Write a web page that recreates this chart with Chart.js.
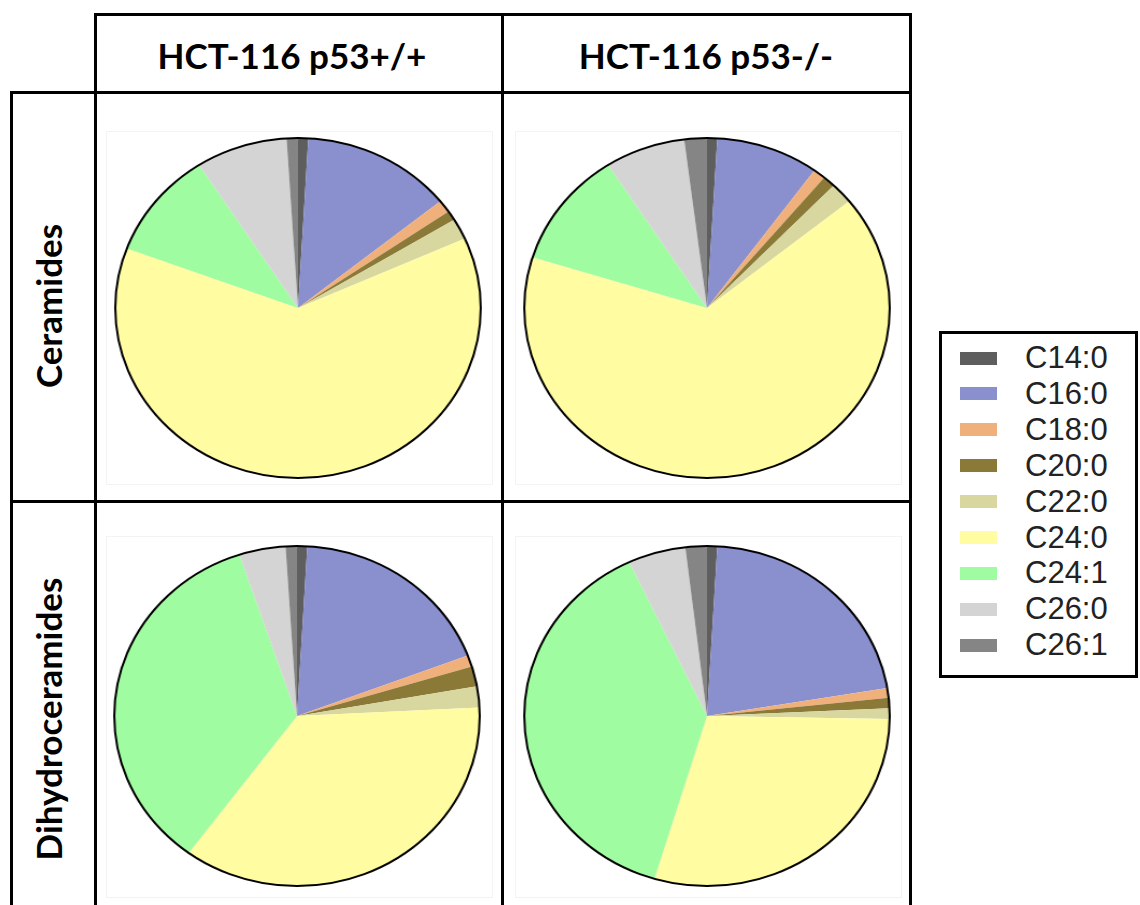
<!DOCTYPE html>
<html>
<head>
<meta charset="utf-8">
<script src="https://cdn.jsdelivr.net/npm/chart.js@4"></script>
<style>
  html, body { margin: 0; padding: 0; background: #fff; }
  #page { position: relative; width: 1140px; height: 905px; overflow: hidden; }
  .ln { position: absolute; background: #000; }
  .head { position: absolute; font-family: Lato, 'Open Sans', sans-serif; font-weight: 700;
          font-size: 35px; color: #000; white-space: nowrap; transform: translate(-50%, -50%); }
  .side { position: absolute; font-family: Lato, 'Open Sans', sans-serif; font-weight: 700;
          font-size: 35px; color: #000; white-space: nowrap;
          transform: translate(-50%, -50%) rotate(-90deg); }
  .frame { position: absolute; border: 1px solid #f3f3f3; }
  .pie { position: absolute; width: 346px; height: 346px; transform: translate(-50%, -50%) scaleX(1.075); }
  #legend { position: absolute; left: 939px; top: 331px; width: 193px; height: 341px;
            border: 3px solid #000; font-family: 'Liberation Sans', Arial, sans-serif; }
  .item { position: absolute; left: 18px; height: 34px; display: flex; align-items: center; }
  .sw { width: 37px; height: 13px; margin-right: 28px; }
  .tx { font-size: 31px; color: #222; }
</style>
</head>
<body>
<div id="page">
  <!-- table rules -->
  <div class="ln" style="left:94px;top:13px;width:818px;height:3px"></div>
  <div class="ln" style="left:94px;top:13px;width:3px;height:892px"></div>
  <div class="ln" style="left:501px;top:13px;width:3px;height:892px"></div>
  <div class="ln" style="left:909px;top:13px;width:3px;height:892px"></div>
  <div class="ln" style="left:10px;top:91px;width:902px;height:3px"></div>
  <div class="ln" style="left:10px;top:91px;width:3px;height:814px"></div>
  <div class="ln" style="left:10px;top:500px;width:902px;height:3px"></div>

  <div class="head" style="left:292px;top:55px">HCT-116 p53+/+</div>
  <div class="head" style="left:706px;top:55px">HCT-116 p53-/-</div>
  <div class="side" style="left:48px;top:306px">Ceramides</div>
  <div class="side" style="left:48px;top:719px">Dihydroceramides</div>

  <div class="frame" style="left:106px;top:131px;width:385px;height:352px"></div>
  <div class="frame" style="left:515px;top:131px;width:385px;height:352px"></div>
  <div class="frame" style="left:106px;top:536px;width:385px;height:360px"></div>
  <div class="frame" style="left:515px;top:536px;width:385px;height:360px"></div>

  <div class="pie" style="left:298px;top:308px"><canvas id="cerWT"></canvas></div>
  <div class="pie" style="left:707px;top:308px"><canvas id="cerKO"></canvas></div>
  <div class="pie" style="left:297px;top:716px"><canvas id="dhWT"></canvas></div>
  <div class="pie" style="left:707px;top:716px"><canvas id="dhKO"></canvas></div>

  <div id="legend"></div>
</div>

<script>
// acyl chain species, clockwise from 12 o'clock
const species = ['C14:0', 'C16:0', 'C18:0', 'C20:0', 'C22:0', 'C24:0', 'C24:1', 'C26:0', 'C26:1'];
const speciesColors = ['#5e5e5e', '#8a8fcd', '#f0b07c', '#8b7a37', '#d8d7a0', '#fffca2', '#a0fca0', '#d4d4d4', '#858585'];

// % of total per species
const ceramidesWT = [0.9, 13.3, 1.2, 0.9, 2.0, 62.4, 10.2, 8.1, 1.0];
const ceramidesKO = [0.9, 9.1, 1.1, 1.1, 2.0, 65.7, 11.1, 7.1, 2.0];
const dihydroWT = [0.9, 18.3, 1.1, 1.9, 2.0, 35.9, 34.8, 4.1, 1.0];
const dihydroKO = [0.9, 21.5, 0.9, 1.0, 1.0, 29.4, 38.4, 5.1, 1.9];

// black rim around the whole pie (slices themselves have no borders)
const rim = {
  id: 'rim',
  afterDatasetsDraw(chart) {
    const arc = chart.getDatasetMeta(0).data[0];
    if (!arc) return;
    const ctx = chart.ctx;
    ctx.save();
    ctx.beginPath();
    ctx.arc(arc.x, arc.y, arc.outerRadius, 0, Math.PI * 2);
    ctx.lineWidth = 2;
    ctx.strokeStyle = '#000';
    ctx.stroke();
    ctx.restore();
  }
};

function makePie(id, values) {
  return new Chart(document.getElementById(id), {
    type: 'pie',
    data: {
      labels: species,
      datasets: [{ data: values, backgroundColor: speciesColors, borderWidth: 0 }]
    },
    options: {
      responsive: true,
      maintainAspectRatio: false,
      animation: false,
      layout: { padding: 3 },
      plugins: { legend: { display: false }, tooltip: { enabled: false } }
    },
    plugins: [rim]
  });
}

makePie('cerWT', ceramidesWT);
makePie('cerKO', ceramidesKO);
makePie('dhWT', dihydroWT);
makePie('dhKO', dihydroKO);

// legend box
const legend = document.getElementById('legend');
species.forEach((s, i) => {
  const row = document.createElement('div');
  row.className = 'item';
  row.style.top = (7 + i * 35.9) + 'px';
  row.innerHTML = '<div class="sw" style="background:' + speciesColors[i] + '"></div><span class="tx">' + s + '</span>';
  legend.appendChild(row);
});
</script>
</body>
</html>
